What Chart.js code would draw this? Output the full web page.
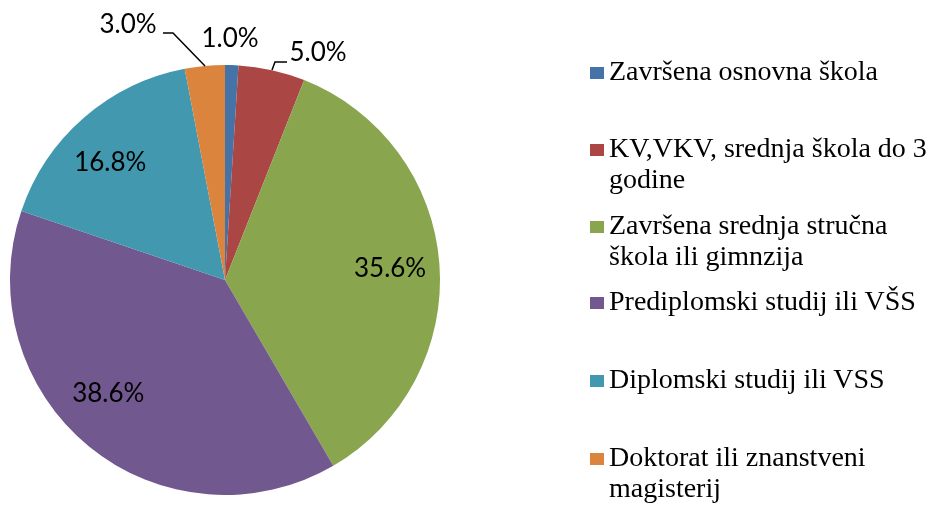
<!DOCTYPE html>
<html>
<head>
<meta charset="utf-8">
<script src="https://cdn.jsdelivr.net/npm/chart.js@4"></script>
<style>
  html, body { margin: 0; padding: 0; background: #fff; }
  #wrap { position: relative; width: 937px; height: 507px; }
  #legenda { position: absolute; left: 0; top: 0; }
  .stavka {
    position: absolute; left: 609px; width: 325px;
    font-family: "Liberation Serif", "Times New Roman", serif;
    font-size: 28px; line-height: 30.5px; color: #000; white-space: nowrap;
  }
  .kvadrat { position: absolute; left: 590px; width: 14px; height: 12px; }
</style>
</head>
<body>
<div id="wrap">
  <canvas id="myChart"></canvas>
  <div id="legenda"></div>
</div>
<script>
const ctx = document.getElementById('myChart');

var kategorije = [
    ['Završena osnovna škola'],
    ['KV,VKV, srednja škola do 3', 'godine'],
    ['Završena srednja stručna', 'škola ili gimnzija'],
    ['Prediplomski studij ili VŠS'],
    ['Diplomski studij ili VSS'],
    ['Doktorat ili znanstveni', 'magisterij']
];
var postoci = [1.0, 5.0, 35.6, 38.6, 16.8, 3.0];
var boje = ['#4572A7', '#AA4643', '#89A54E', '#71588F', '#4198AF', '#DB843D'];

// legend rows (baseline of first line)
var legendY = [81, 158, 235, 311, 389, 467];
var labelFont = '26px Lato';

// nudges for the inside labels (Excel does not place them exactly radial)
var nudge = [[0, 0], [0, 0], [0, 1], [-12, -15], [-6, 7], [0, 0]];

// html legend
const leg = document.getElementById('legenda');
kategorije.forEach((lines, i) => {
    const sq = document.createElement('div');
    sq.className = 'kvadrat';
    sq.style.top = (legendY[i] - 14) + 'px';
    sq.style.background = boje[i];
    leg.appendChild(sq);
    const d = document.createElement('div');
    d.className = 'stavka';
    d.style.top = (legendY[i] - 24.7) + 'px';
    lines.forEach((t, j) => {
        if (j) d.appendChild(document.createElement('br'));
        d.appendChild(document.createTextNode(t));
    });
    leg.appendChild(d);
});

const oznake = {
    id: 'oznake',
    afterDatasetsDraw(chart) {
        const c = chart.ctx;
        const arcs = chart.getDatasetMeta(0).data;
        c.save();
        c.fillStyle = '#000';
        c.font = labelFont;
        c.textAlign = 'center';
        c.textBaseline = 'middle';
        arcs.forEach((a, i) => {
            const txt = postoci[i].toFixed(1) + '%';
            const mid = (a.startAngle + a.endAngle) / 2;
            let r = a.outerRadius * 0.77;
            let x = a.x + Math.cos(mid) * r + nudge[i][0];
            let y = a.y + Math.sin(mid) * r + nudge[i][1];
            if (i === 0) {
                x = a.x + 5; y = a.y - 241;
            } else if (i === 1) {
                x = a.x + 93; y = a.y - 227;
                c.strokeStyle = '#000'; c.lineWidth = 1.5;
                c.beginPath();
                c.moveTo(a.x + 47, a.y - 210);
                c.lineTo(a.x + 50, a.y - 218);
                c.lineTo(a.x + 62, a.y - 218);
                c.stroke();
            } else if (i === 5) {
                x = a.x - 97; y = a.y - 255;
                c.strokeStyle = '#000'; c.lineWidth = 1.5;
                c.beginPath();
                c.moveTo(a.x - 62, a.y - 247);
                c.lineTo(a.x - 52, a.y - 247);
                c.lineTo(a.x - 20, a.y - 214);
                c.stroke();
            }
            c.fillText(txt, x, y);
        });
        c.restore();
    }
};

new Chart(ctx, {
    type: 'pie',
    data: {
        labels: kategorije.map(k => k.join(' ')),
        datasets: [{
            data: postoci,
            backgroundColor: boje,
            borderWidth: 0
        }]
    },
    options: {
        responsive: true,
        maintainAspectRatio: false,
        animation: false,
        layout: {
            padding: { left: 10, top: 65, right: 497, bottom: 12 }
        },
        plugins: {
            legend: { display: false },
            tooltip: { enabled: false }
        }
    },
    plugins: [oznake]
});
</script>
</body>
</html>
